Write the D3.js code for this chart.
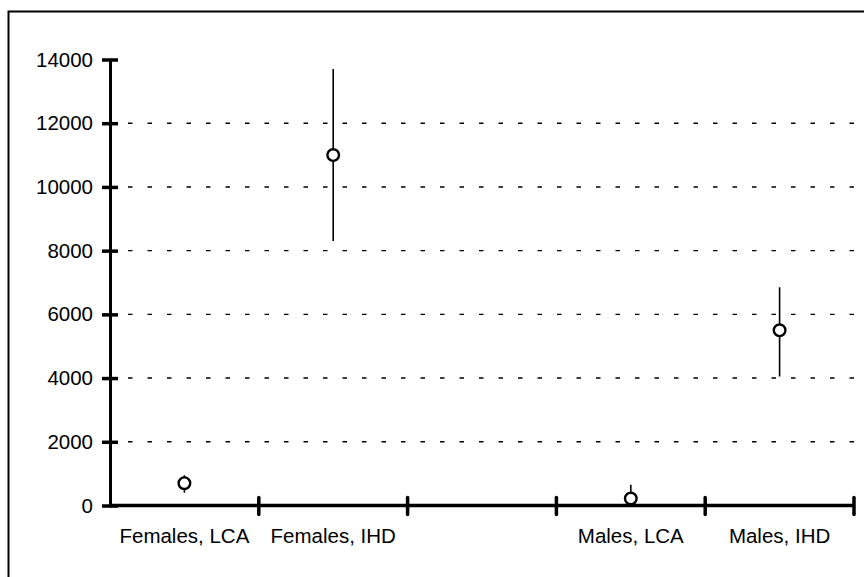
<!DOCTYPE html>
<html>
<head>
<meta charset="utf-8">
<script src="https://cdn.jsdelivr.net/npm/d3@7"></script>
<style>
  body { margin: 0; background: #fff; }
  text { font-family: "Liberation Sans", Arial, sans-serif; fill: #000; }
</style>
</head>
<body>
<svg width="864" height="577"></svg>
<script>
// slots on the x axis, the empty one is a gap between the groups
var categories = ["Females, LCA", "Females, IHD", "", "Males, LCA", "Males, IHD"];
var groups = ["Females, LCA", "Females, IHD", "Males, LCA", "Males, IHD"];
var means = [700, 11000, 220, 5500];
var lower = [400, 8300, 150, 4050];
var upper = [950, 13700, 650, 6850];
var yTicks = [0, 2000, 4000, 6000, 8000, 10000, 12000, 14000];

var svg = d3.select("svg");

// frame
svg.append("rect")
  .attr("x", 8.5).attr("y", 11.5)
  .attr("width", 900).attr("height", 700)
  .attr("fill", "none").attr("stroke", "#000").attr("stroke-width", 2);

var x = d3.scaleBand().domain(categories).range([110, 854]);
var y = d3.scaleLinear().domain([0, 14000]).range([505.5, 59.5]);

// dotted grid
svg.append("g")
  .selectAll("line")
  .data(yTicks.slice(1, -1))
  .enter()
  .append("line")
  .attr("x1", 128).attr("x2", 858)
  .attr("y1", function(d) { return y(d); })
  .attr("y2", function(d) { return y(d); })
  .attr("stroke", "#000")
  .attr("stroke-width", 1.4)
  .attr("stroke-dasharray", "4.5,15");

// y axis
var yAxis = svg.append("g")
  .attr("transform", "translate(110,0)")
  .call(d3.axisLeft(y).tickValues(yTicks).tickFormat(d3.format("d")).tickSize(0).tickPadding(17));
yAxis.select(".domain").attr("stroke-width", 3).attr("stroke-linecap", "round");
yAxis.selectAll("text").attr("font-size", 20.5).attr("font-family", "Liberation Sans, Arial, sans-serif");
yAxis.selectAll(".tick").append("line")
  .attr("x1", -8).attr("x2", 8)
  .attr("stroke", "#000").attr("stroke-width", 3.5);

// x axis
var bounds = categories.map(function(c) { return x(c); }).concat([x.range()[1]]);
var xAxis = svg.append("g");
xAxis.append("line")
  .attr("x1", 110).attr("x2", 854)
  .attr("y1", y(0)).attr("y2", y(0))
  .attr("stroke", "#000").attr("stroke-width", 3.5);
xAxis.selectAll("line.tk")
  .data(bounds.slice(1))
  .enter()
  .append("line")
  .classed("tk", true)
  .attr("x1", function(d) { return d; })
  .attr("x2", function(d) { return d; })
  .attr("y1", y(0) - 8).attr("y2", y(0) + 9)
  .attr("stroke", "#000").attr("stroke-width", 3.5)
  .attr("stroke-linecap", "round");
xAxis.selectAll("text")
  .data(groups)
  .enter()
  .append("text")
  .attr("x", function(d) { return x(d) + x.bandwidth() / 2; })
  .attr("y", 543)
  .attr("text-anchor", "middle")
  .attr("font-size", 20.5)
  .text(function(d) { return d; });

// error bars and points
var pts = groups.map(function(g, i) {
  return { cat: g, mean: means[i], lo: lower[i], hi: upper[i] };
});
var cx = function(d) { return x(d.cat) + x.bandwidth() / 2; };

svg.append("g")
  .selectAll("line")
  .data(pts)
  .enter()
  .append("line")
  .attr("x1", cx).attr("x2", cx)
  .attr("y1", function(d) { return y(d.lo); })
  .attr("y2", function(d) { return y(d.hi); })
  .attr("stroke", "#000").attr("stroke-width", 1.6);

svg.append("g")
  .selectAll("circle")
  .data(pts)
  .enter()
  .append("circle")
  .attr("cx", cx)
  .attr("cy", function(d) { return y(d.mean); })
  .attr("r", 5.8)
  .attr("fill", "#fff")
  .attr("stroke", "#000")
  .attr("stroke-width", 2.4);
</script>
</body>
</html>
